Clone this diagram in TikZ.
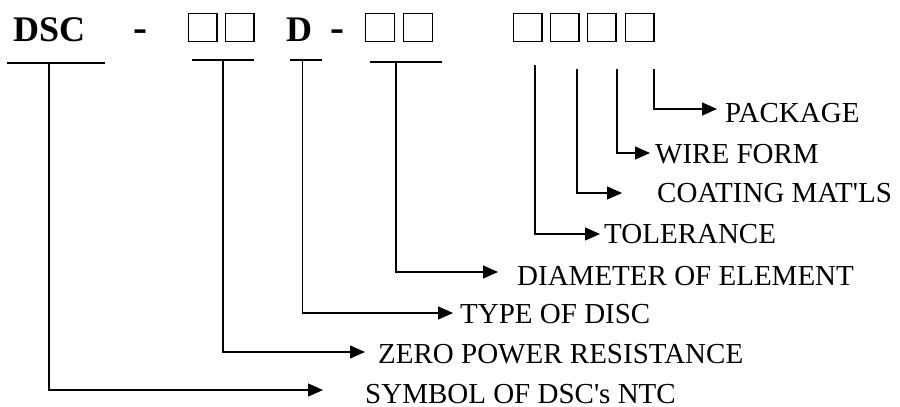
\documentclass[tikz,border=0pt]{standalone}
\usepackage{fontspec}
\setmainfont{Liberation Serif}[Ligatures=TeXOff]
\usetikzlibrary{arrows.meta}
\begin{document}
\begin{tikzpicture}[x=1pt,y=-1pt,
  lw/.style={line width=1.3pt},
  codebox/.style={draw,lw,minimum width=28.7pt,minimum height=27.7pt,inner sep=0pt},
  bigtxt/.style={inner sep=0pt,anchor=base west,font=\fontsize{36}{40}\selectfont\bfseries},
  dashtxt/.style={inner sep=0pt,anchor=base west,font=\fontsize{42}{46}\selectfont\bfseries},
  lbl/.style={inner sep=0pt,anchor=base west,font=\fontsize{29}{34}\selectfont},
  bar/.style={lw},
  conn/.style={lw,-{Triangle[length=15pt,width=13pt]}}]
\useasboundingbox (0,0) rectangle (900,407);
% top code
\node[bigtxt] (dsc) at (13,41) {DSC};
\node[dashtxt] (d1) at (133,41.1) {-};
\node[codebox] (b1) at (202.5,27.5) {};
\node[codebox] (b2) at (239.5,27.5) {};
\node[bigtxt] (dd) at (286,41) {D};
\node[dashtxt] (d2) at (330,41.1) {-};
\node[codebox] (b3) at (380,27.5) {};
\node[codebox] (b4) at (418,27.5) {};
\node[codebox] (b5) at (527.5,27.5) {};
\node[codebox] (b6) at (564.5,27.5) {};
\node[codebox] (b7) at (601.5,27.5) {};
\node[codebox] (b8) at (639.5,27.5) {};
% bars
\draw[bar] (7,63) -- (105,63);
\draw[bar] (192,60) -- (254,60);
\draw[bar] (290,60) -- (322,60);
\draw[bar] (370,62) -- (442,62);
% connector starts
\coordinate (s1) at (49,63);
\coordinate (s2) at (223,60);
\coordinate (s3) at (302.5,60);
\coordinate (s4) at (396,62);
\coordinate (s5) at (535,65);
\coordinate (s6) at (577,69);
\coordinate (s7) at (617,69);
\coordinate (s8) at (654,69);
% arrow tips
\coordinate (t1) at (323,390);
\coordinate (t2) at (365,352);
\coordinate (t3) at (453,313);
\coordinate (t4) at (498,272);
\coordinate (t5) at (600,234);
\coordinate (t6) at (622,193);
\coordinate (t7) at (650,153);
\coordinate (t8) at (717,109);
% labels
\node[lbl] (l1) at (365,403) {SYMBOL OF DSC's NTC};
\node[lbl] (l2) at (378,363) {ZERO POWER RESISTANCE};
\node[lbl] (l3) at (460,323) {TYPE OF DISC};
\node[lbl] (l4) at (517,285) {DIAMETER OF ELEMENT};
\node[lbl] (l5) at (604,243) {TOLERANCE};
\node[lbl] (l6) at (657,202) {COATING MAT'LS};
\node[lbl] (l7) at (655,163) {WIRE FORM};
\node[lbl] (l8) at (725,122) {PACKAGE};
% connectors
\foreach \i in {1,...,8} {
  \draw[conn] (s\i) |- (t\i);
}
\end{tikzpicture}
\end{document}
